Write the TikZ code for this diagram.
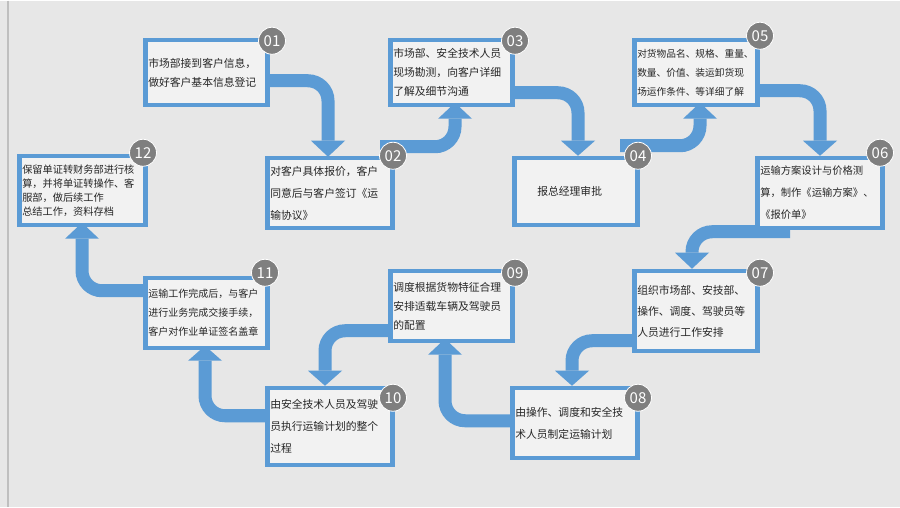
\documentclass[tikz,border=0pt]{standalone}
\usepackage{fontspec}
\setmainfont{Noto Sans CJK SC}
\begin{document}
\begin{tikzpicture}[x=1pt,y=-1pt,
 band/.style={draw=bandc,line width=13pt,rounded corners=20pt},
 box/.style={draw=bandc,line width=4.5pt,fill=boxc,anchor=north west,inner sep=3pt,align=left,font=\fontsize{10.8}{19}\selectfont,text=black!85},
 badge/.style={circle,fill=badgec,draw=white,line width=0.8pt,minimum size=27pt,inner sep=0pt,text=white,font=\fontsize{15}{15}\selectfont}]
\definecolor{bandc}{HTML}{5B9BD5}
\definecolor{boxc}{HTML}{F2F2F2}
\definecolor{badgec}{HTML}{7F7F7F}
\definecolor{bgc}{HTML}{E7E7E7}
\fill[bgc] (0,0) rectangle (900,506);
\draw[black!25,line width=1.5pt] (8,0) -- (8,506);
\useasboundingbox (0,0) rectangle (900,506);
\newcommand\flow[5]{%
 \draw[band] (#1,#2) -| (#3,#4);
 \fill[bandc] (#3-17,#4) -- (#3+17,#4) -- (#3,#5) -- cycle;}
\flow{250}{80}{328}{140}{156}
\flow{380}{146}{455}{118}{102}
\flow{500}{92}{578}{140}{155}
\flow{620}{145}{700}{118}{102}
\flow{740}{90}{820}{140}{155}
\flow{790}{231}{692}{252}{268}
\flow{645}{340}{572}{370}{385}
\flow{520}{420}{445}{354}{338}
\flow{400}{330}{325}{370}{385}
\flow{275}{415}{205}{360}{345}
\flow{155}{290}{82}{238}{222}
\node[box,minimum width=122pt,minimum height=65pt,text width=116pt] (b1) at (143,37) {市场部接到客户信息，\\做好客户基本信息登记};
\node[box,minimum width=125pt,minimum height=70pt,text width=119pt,font=\fontsize{10.8}{22}\selectfont] (b2) at (265,155) {对客户具体报价，客户\\同意后与客户签订《运\\输协议》};
\node[box,minimum width=122pt,minimum height=65pt,text width=116pt] (b3) at (388,37) {市场部、安全技术人员\\现场勘测，向客户详细\\了解及细节沟通};
\node[box,minimum width=123pt,minimum height=67pt,text width=117pt] (b4) at (512,155) {\hspace*{20pt}报总经理审批};
\node[box,minimum width=123pt,minimum height=65pt,text width=117pt,font=\fontsize{9.7}{19}\selectfont] (b5) at (632,37) {对货物品名、规格、重量、\\数量、价值、装运卸货现\\场运作条件、等详细了解};
\node[box,minimum width=125pt,minimum height=70pt,text width=119pt,font=\fontsize{10.3}{22}\selectfont] (b6) at (755,155) {运输方案设计与价格测\\算，制作《运输方案》、\\《报价单》};
\node[box,minimum width=123pt,minimum height=80pt,text width=117pt,font=\fontsize{10.8}{21}\selectfont] (b7) at (632,268) {组织市场部、安技部、\\操作、调度、驾驶员等\\人员进行工作安排};
\node[box,minimum width=125pt,minimum height=70pt,text width=119pt,font=\fontsize{10.8}{22}\selectfont] (b8) at (510,385) {由操作、调度和安全技\\术人员制定运输计划};
\node[box,minimum width=122pt,minimum height=70pt,text width=116pt] (b9) at (388,268) {调度根据货物特征合理\\安排适载车辆及驾驶员\\的配置};
\node[box,minimum width=125pt,minimum height=77pt,text width=119pt,font=\fontsize{10.8}{22}\selectfont] (b10) at (265,385) {由安全技术人员及驾驶\\员执行运输计划的整个\\过程};
\node[box,minimum width=122pt,minimum height=70pt,text width=116pt,font=\fontsize{10}{19}\selectfont] (b11) at (143,275) {运输工作完成后，与客户\\进行业务完成交接手续，\\客户对作业单证签名盖章};
\node[box,minimum width=126pt,minimum height=69pt,text width=120pt,font=\fontsize{10.2}{14}\selectfont] (b12) at (17,153) {保留单证转财务部进行核\\算，并将单证转操作、客\\服部，做后续工作\\总结工作，资料存档};
\node[badge] (n1) at (272,40) {01};
\node[badge] (n2) at (393,155) {02};
\node[badge] (n3) at (515,40) {03};
\node[badge] (n4) at (638,155) {04};
\node[badge] (n5) at (760,35) {05};
\node[badge] (n6) at (880,152) {06};
\node[badge] (n7) at (760,272) {07};
\node[badge] (n8) at (638,397) {08};
\node[badge] (n9) at (515,272) {09};
\node[badge] (n10) at (393,397) {10};
\node[badge] (n11) at (265,272) {11};
\node[badge] (n12) at (143,152) {12};
\end{tikzpicture}
\end{document}
